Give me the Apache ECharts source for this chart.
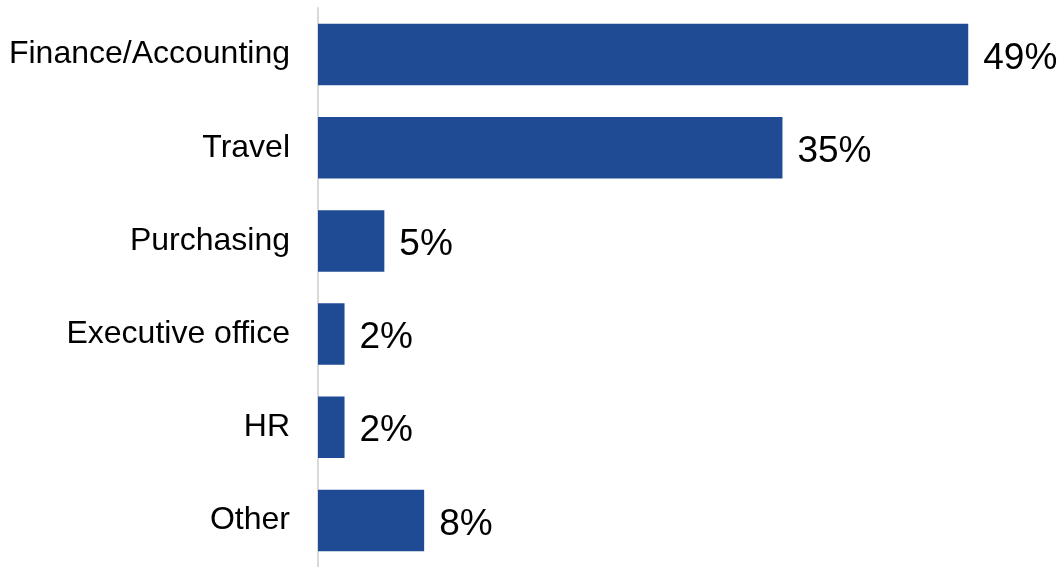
<!DOCTYPE html>
<html><head><meta charset="utf-8">
<script src="https://cdn.jsdelivr.net/npm/echarts@6/dist/echarts.min.js"></script>
<style>html,body{margin:0;padding:0;background:#fff}#c{width:1063px;height:567px}</style>
</head><body><div id="c"></div>
<script>
const categories = ["Finance/Accounting", "Travel", "Purchasing", "Executive office", "HR", "Other"];
const values = [49, 35, 5, 2, 2, 8];

const chart = echarts.init(document.getElementById('c'), null, {renderer: 'canvas'});
chart.setOption({
  animation: false,
  grid: {left: 318, top: 8, width: 663.5, height: 560, containLabel: false},
  xAxis: {type: 'value', min: 0, max: 50, show: false},
  yAxis: {
    type: 'category', data: categories, inverse: true,
    axisLine: {show: true, lineStyle: {color: '#d9d9d9', width: 2}},
    axisTick: {show: false},
    axisLabel: {color: '#000', fontSize: 32, fontFamily: 'Liberation Sans, Arial, sans-serif', margin: 28, padding: [4, 0, 0, 0]}
  },
  series: [{
    type: 'bar', data: values, barCategoryGap: '34%',
    itemStyle: {color: '#1F4A94'},
    label: {show: true, position: 'right', distance: 15, offset: [0, 4], formatter: '{c}%', color: '#000', fontSize: 37, fontFamily: 'Liberation Sans, Arial, sans-serif'}
  }]
});
</script></body></html>
